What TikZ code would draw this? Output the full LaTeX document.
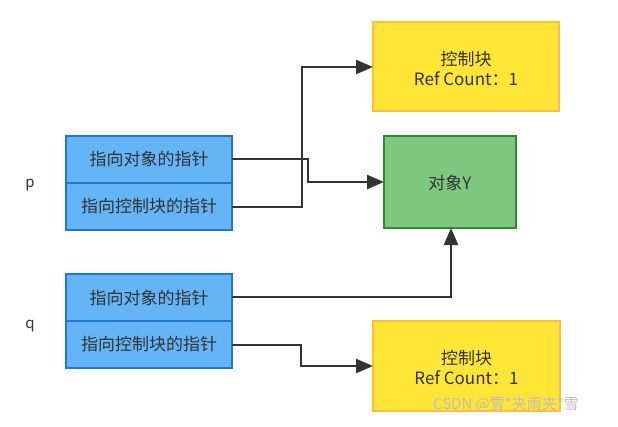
\documentclass[tikz,border=0pt]{standalone}
\usepackage{fontspec}
\setmainfont{Noto Sans CJK SC}
\usetikzlibrary{arrows.meta}
\definecolor{txt}{HTML}{333333}
\definecolor{bluefill}{HTML}{64B5F6}
\definecolor{blueline}{HTML}{1E78D2}
\definecolor{yelfill}{HTML}{FFE536}
\definecolor{yelline}{HTML}{FFBE3C}
\definecolor{grnfill}{HTML}{7EC77F}
\definecolor{grnline}{HTML}{2E8B2E}
\definecolor{wm}{HTML}{BDBDBD}
\tikzset{
  ptrbox/.style={draw=blueline, fill=bluefill, line width=1.8pt, text=txt},
  ctrlbox/.style={draw=yelline, fill=yelfill, line width=1.4pt, text=txt},
  objbox/.style={draw=grnline, fill=grnfill, line width=1.8pt, text=txt},
  conn/.style={draw=txt, line width=2.4pt, -{Triangle[length=17pt,width=14pt]}},
  lbl/.style={text=txt, font=\fontsize{17}{20}\selectfont, align=center},
}
\begin{document}
\begin{tikzpicture}[x=1pt,y=-1pt]
\useasboundingbox[fill=white] (0,0) rectangle (618,426);
% boxes
\path[ptrbox] (66,136) rectangle (232,183);
\path[ptrbox] (66,183) rectangle (232,230);
\path[ptrbox] (66,274) rectangle (232,321);
\path[ptrbox] (66,321) rectangle (232,368);
\path[ctrlbox] (373,22) rectangle (559,111);
\path[objbox] (384,136) rectangle (516,228);
\path[ctrlbox] (373,321) rectangle (560,411);
% nodes (text)
\node[lbl] (p1) at (149,159.5) {指向对象的指针};
\node[lbl] (p2) at (149,206.5) {指向控制块的指针};
\node[lbl] (q1) at (149,297.5) {指向对象的指针};
\node[lbl] (q2) at (149,344.5) {指向控制块的指针};
\node[lbl] (c1) at (466,68) {控制块\\Ref Count：1};
\node[lbl] (obj) at (450,183) {对象Y};
\node[lbl] (c2) at (466.5,367) {控制块\\Ref Count：1};
\node[text=txt, font=\fontsize{15}{17}\selectfont] (p) at (30,185) {p};
\node[text=txt, font=\fontsize{15}{17}\selectfont] (q) at (30,326) {q};
% anchor coordinates
\coordinate (p1e) at (232,159);
\coordinate (p2e) at (232,207);
\coordinate (q1e) at (232,297);
\coordinate (q2e) at (232,345);
\coordinate (c1w) at (373,67);
\coordinate (objw) at (384,182);
\coordinate (objs) at (451,228);
\coordinate (c2w) at (373,366);
% connectors
\draw[conn] (p1e) -- (308,159) -- (308,182) -- (objw);
\draw[conn] (p2e) -- (302,207) -- (302,67) -- (c1w);
\draw[conn] (q1e) -- (451,297) -- (objs);
\draw[conn] (q2e) -- (301,345) -- (301,366) -- (c2w);
% watermark
\node[text=wm, font=\fontsize{15}{17}\selectfont] (wmk) at (506,404) {CSDN @雪*夹雨夹*雪};
\end{tikzpicture}
\end{document}
